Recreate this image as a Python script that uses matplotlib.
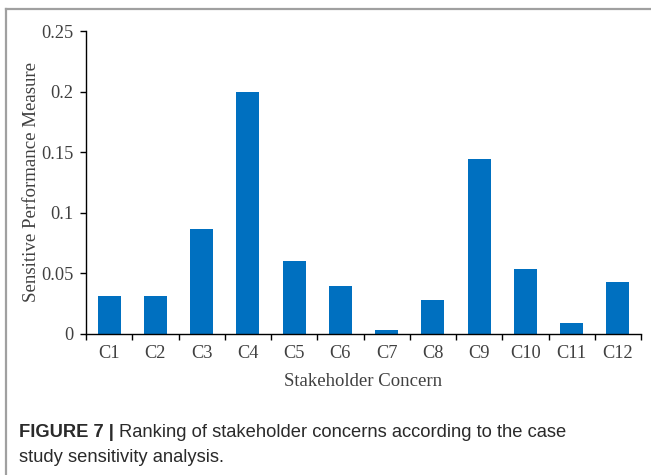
import numpy as np
import matplotlib
matplotlib.use("Agg")
import matplotlib.pyplot as plt
from matplotlib.lines import Line2D

concerns = ["C1", "C2", "C3", "C4", "C5", "C6", "C7", "C8", "C9", "C10", "C11", "C12"]
measure = [0.031, 0.031, 0.087, 0.200, 0.060, 0.040, 0.003, 0.028, 0.144, 0.054, 0.009, 0.043]
y_ticks = [0, 0.05, 0.1, 0.15, 0.2, 0.25]
y_tick_labels = ["0", "0.05", "0.1", "0.15", "0.2", "0.25"]

BAR_COLOR = "#0070C0"
TEXT_COLOR = "#404040"
SERIF = "Liberation Serif"
SANS = "Liberation Sans"

W, H = 651, 475
fig = plt.figure(figsize=(W / 100, H / 100), dpi=100)
fig.patch.set_facecolor("white")

# ── Frame lines (top + left) ──────────────────────────────────────────────────
fig.add_artist(Line2D([6 / W, 1], [1 - 8.5 / H, 1 - 8.5 / H], color="#a0a0a0", lw=1.6,
                      transform=fig.transFigure))
fig.add_artist(Line2D([6 / W, 6 / W], [0, 1 - 8.5 / H], color="#a0a0a0", lw=1.6,
                      transform=fig.transFigure))

# ── Axes ──────────────────────────────────────────────────────────────────────
ax = fig.add_axes([86 / W, 1 - 334 / H, (641 - 86) / W, (334 - 31) / H])
x = np.arange(len(concerns))
ax.bar(x, measure, width=0.5, color=BAR_COLOR, zorder=2)

ax.set_xlim(-0.5, len(concerns) - 0.5)
ax.set_ylim(0, 0.25)

ax.spines["top"].set_visible(False)
ax.spines["right"].set_visible(False)
ax.spines["left"].set_linewidth(1.0)
ax.spines["bottom"].set_linewidth(1.0)

ax.set_yticks(y_ticks)
ax.set_yticklabels(y_tick_labels, fontfamily=SERIF, fontsize=13.2, color=TEXT_COLOR)
ax.tick_params(axis="y", direction="out", length=4, width=1.0, pad=5)

ax.set_xticks(x)
ax.set_xticklabels(concerns, fontfamily=SERIF, fontsize=13.2, color=TEXT_COLOR)
ax.set_xticks(np.arange(-0.5, len(concerns)), minor=True)
ax.tick_params(axis="x", which="major", length=0, pad=8)
ax.tick_params(axis="x", which="minor", direction="out", length=4, width=1.0)

ax.set_xlabel("Stakeholder Concern", fontfamily=SERIF, fontsize=13.5, color=TEXT_COLOR,
              labelpad=8)
ax.set_ylabel("Sensitive Performance Measure", fontfamily=SERIF, fontsize=13.6,
              color=TEXT_COLOR, labelpad=1)

# ── Caption ───────────────────────────────────────────────────────────────────
t1 = fig.text(19 / W, 1 - 437 / H, "FIGURE 7 |", fontfamily=SANS, fontsize=13.2,
              fontweight="bold", color="#2a2a2a", va="baseline", ha="left")
ax.annotate("Ranking of stakeholder concerns according to the case",
            xy=(1, 0), xycoords=t1, xytext=(3.5, 0), textcoords="offset points",
            fontfamily=SANS, fontsize=13.2, color="#2a2a2a", va="bottom", ha="left",
            annotation_clip=False)
fig.text(19 / W, 1 - 462 / H, "study sensitivity analysis.",
         fontfamily=SANS, fontsize=13.2, color="#2a2a2a", va="baseline", ha="left")

fig.savefig("out.png", dpi=100, facecolor="white")
